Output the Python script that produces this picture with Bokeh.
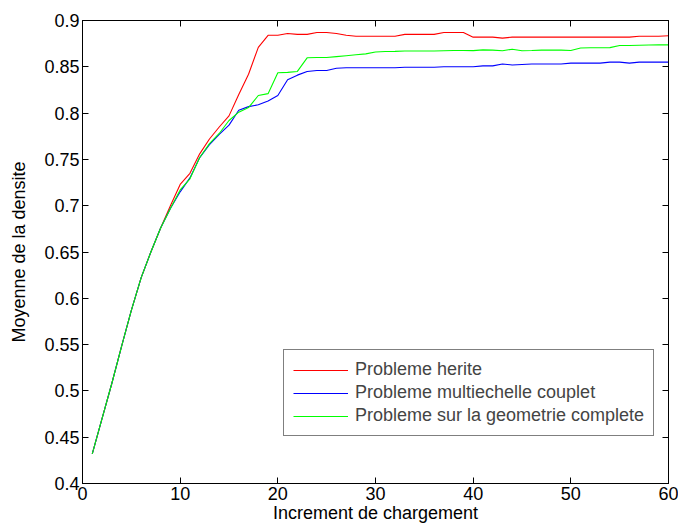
from bokeh.plotting import figure
from bokeh.models import (LinearAxis, FixedTicker, Legend, LegendItem, Range1d,
                          CustomLabelingPolicy)
from bokeh.embed import file_html
from bokeh.resources import INLINE

increments = list(range(1, 61))

common_start = [0.432, 0.470, 0.508, 0.548, 0.587, 0.622, 0.650, 0.676]

probleme_herite = common_start + [
    0.700, 0.723, 0.735, 0.756, 0.772, 0.785, 0.797, 0.820, 0.842, 0.871,
    0.884, 0.884, 0.886, 0.885, 0.885, 0.887, 0.887, 0.886, 0.884, 0.883,
    0.883, 0.883, 0.883, 0.883, 0.885, 0.885, 0.885, 0.885, 0.887, 0.887,
    0.887, 0.882, 0.882, 0.882, 0.881, 0.882, 0.882, 0.882, 0.882, 0.882,
    0.882, 0.882, 0.882, 0.882, 0.882, 0.882, 0.882, 0.882, 0.883, 0.883,
    0.883, 0.8835]

probleme_multiechelle = common_start + [
    0.697, 0.715, 0.730, 0.752, 0.766, 0.777, 0.787, 0.803, 0.807, 0.809,
    0.813, 0.819, 0.836, 0.841, 0.845, 0.846, 0.846, 0.8485, 0.849, 0.849,
    0.849, 0.849, 0.849, 0.849, 0.8495, 0.8495, 0.8495, 0.8495, 0.850, 0.850,
    0.850, 0.850, 0.851, 0.851, 0.853, 0.852, 0.8525, 0.853, 0.853, 0.853,
    0.853, 0.854, 0.854, 0.854, 0.854, 0.855, 0.855, 0.854, 0.855, 0.855,
    0.855, 0.855]

probleme_geometrie = common_start + [
    0.697, 0.717, 0.729, 0.752, 0.767, 0.778, 0.792, 0.801, 0.806, 0.819,
    0.821, 0.8435, 0.844, 0.845, 0.8597, 0.860, 0.860, 0.861, 0.862, 0.863,
    0.864, 0.866, 0.8665, 0.8667, 0.867, 0.867, 0.867, 0.867, 0.8673, 0.8676,
    0.8676, 0.8675, 0.8683, 0.868, 0.8673, 0.869, 0.8673, 0.8676, 0.868, 0.868,
    0.868, 0.8676, 0.8703, 0.8705, 0.8705, 0.8707, 0.873, 0.873, 0.8733, 0.8735,
    0.8737, 0.8737]

series_names = ["Probleme herite", "Probleme multiechelle couplet",
                "Probleme sur la geometrie complete"]
series_colors = ["#ff0000", "#0000ff", "#00ff00"]

x_ticks = [0, 10, 20, 30, 40, 50, 60]
y_ticks = [0.4, 0.45, 0.5, 0.55, 0.6, 0.65, 0.7, 0.75, 0.8, 0.85, 0.9]
y_tick_labels = ["0.4", "0.45", "0.5", "0.55", "0.6", "0.65", "0.7",
                 "0.75", "0.8", "0.85", "0.9"]

FONT = "Liberation Sans"
FS = "18px"

p = figure(width=678, height=529, output_backend="svg", toolbar_location=None,
           x_range=Range1d(0, 60), y_range=Range1d(0.4, 0.9),
           min_border_left=82, min_border_top=20, min_border_right=10,
           min_border_bottom=46)
p.grid.visible = False
p.outline_line_color = "black"
p.outline_line_width = 1
p.background_fill_color = "white"
p.border_fill_color = "white"

renderers = []
for vals, col in zip([probleme_herite, probleme_multiechelle, probleme_geometrie],
                     series_colors):
    r = p.line(increments, vals, line_color=col, line_width=1.1)
    renderers.append(r)

def style_axis(ax):
    ax.major_tick_in = 6
    ax.major_tick_out = 0
    ax.minor_tick_in = 0
    ax.minor_tick_out = 0
    ax.axis_line_color = "black"
    ax.major_tick_line_color = "black"
    ax.major_label_text_font = FONT
    ax.axis_label_text_font = FONT
    ax.axis_label_text_font_style = "normal"
    ax.axis_label_text_font_size = FS
    ax.major_label_text_font_size = FS
    ax.major_label_text_color = "black"
    ax.axis_label_text_color = "black"
    ax.major_label_standoff = 3

hide_all = CustomLabelingPolicy(code="""
    for (const i of Array.from(indices)) { indices.unset(i) }
    return indices
""")

xa = p.xaxis[0]
xa.ticker = FixedTicker(ticks=x_ticks)
xa.axis_label = "Increment de chargement"
style_axis(xa)
xa.axis_label_standoff = 0

ya = p.yaxis[0]
ya.ticker = FixedTicker(ticks=y_ticks)
ya.major_label_overrides = {t: l for t, l in zip(y_ticks, y_tick_labels)}
ya.axis_label = "Moyenne de la densite"
style_axis(ya)
ya.axis_label_standoff = 12

top = LinearAxis(ticker=FixedTicker(ticks=x_ticks))
style_axis(top)
top.major_label_overrides = {t: "" for t in x_ticks}
top.major_label_policy = hide_all
top.major_label_standoff = 0
p.add_layout(top, "above")
right = LinearAxis(ticker=FixedTicker(ticks=y_ticks))
style_axis(right)
right.major_label_overrides = {t: "" for t in y_ticks}
right.major_label_policy = hide_all
right.major_label_standoff = 0
p.add_layout(right, "right")

legend = Legend(items=[LegendItem(label=n, renderers=[r])
                       for n, r in zip(series_names, renderers)],
                location=(201, 47))
legend.label_text_font = FONT
legend.label_text_font_size = "18px"
legend.border_line_color = "black"
legend.border_line_width = 1
legend.glyph_width = 55
legend.glyph_height = 20
legend.label_height = 20
legend.label_standoff = 7
legend.spacing = 2
legend.padding = 9
legend.margin = 0
legend.background_fill_alpha = 1
p.add_layout(legend, "center")

open("out.html", "w").write(file_html(p, INLINE))
